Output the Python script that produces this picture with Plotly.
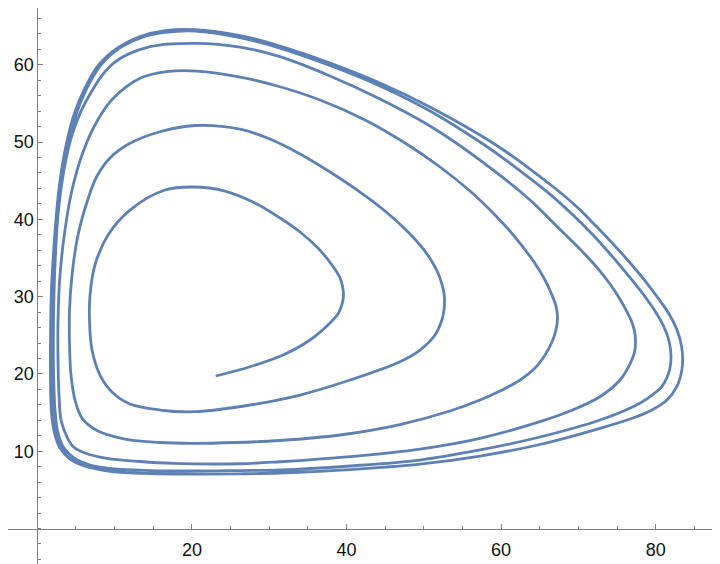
import plotly.graph_objects as go

# trajectory, one turn of the spiral per list
turn1_x = [23.08, 27.52, 31.79, 35.28, 37.87, 38.97, 39.46, 39.61, 39.48, 39.10, 38.12, 36.31, 33.99,
           31.40, 28.16, 24.28, 20.14, 16.52, 11.99, 9.15, 7.46, 6.82, 6.75, 7.08, 8.11, 9.79, 11.99,
           15.87, 20.40]
turn1_y = [19.73, 20.93, 22.45, 24.39, 26.59, 27.88, 29.17, 30.21, 31.37, 32.54, 34.09, 36.29, 38.36,
           40.17, 42.11, 43.66, 44.18, 43.79, 41.20, 37.97, 34.09, 30.21, 26.97, 23.09, 19.86, 17.53,
           16.11, 15.33, 15.11]

turn2_x = [27.52, 33.99, 40.45, 46.92, 49.51, 51.45, 52.34, 52.61, 52.68, 52.63, 52.38, 51.84, 50.93,
           49.51, 47.57, 44.98, 41.75, 37.87, 33.99, 30.10, 26.22, 20.40, 15.87, 11.99, 9.40, 7.68,
           6.60, 5.27, 4.49, 4.17, 4.17, 4.36, 4.88, 5.78, 7.85, 11.36, 15.87, 20.01]
turn2_y = [15.98, 17.27, 19.21, 21.58, 23.09, 25.03, 26.97, 28.26, 29.30, 30.33, 31.50, 33.05, 34.74,
           36.68, 38.75, 41.08, 43.53, 46.12, 48.45, 50.39, 51.68, 52.14, 51.33, 49.83, 47.93, 45.51,
           42.76, 37.97, 32.80, 28.27, 23.74, 19.86, 16.62, 14.29, 12.61, 11.58, 11.13, 11.02]

turn3_x = [25.70, 31.40, 39.16, 46.92, 53.39, 57.27, 59.86, 62.45, 64.39, 65.68, 66.52, 67.10, 67.30,
           67.10, 66.58, 65.68, 64.26, 61.80, 59.21, 55.98, 52.10, 47.57, 42.40, 36.58, 31.40, 26.22,
           20.66, 16.74, 13.29, 9.62, 7.46, 5.78, 4.49, 3.58, 2.94, 2.68, 2.68, 2.81, 3.07, 3.84, 4.66,
           6.17, 8.98, 13.29, 17.59]
turn3_y = [11.13, 11.39, 12.10, 13.45, 15.20, 16.62, 17.79, 19.21, 20.76, 22.45, 24.00, 25.68, 27.36,
           28.78, 30.21, 32.15, 34.48, 37.71, 40.56, 43.66, 46.77, 49.87, 52.85, 55.43, 57.15, 58.41,
           59.18, 59.10, 58.24, 55.43, 52.20, 48.32, 43.79, 38.62, 32.80, 26.97, 21.80, 17.27, 14.04,
           11.84, 10.58, 9.77, 9.08, 8.67, 8.43]

turn4_x = [26.22, 31.40, 40.45, 49.51, 57.27, 65.03, 68.91, 72.79, 75.38, 76.67, 77.26, 77.39, 77.26,
           76.80, 76.03, 75.12, 74.09, 72.79, 71.24, 69.56, 66.98, 63.74, 57.27, 50.80, 44.33, 37.87,
           31.40, 26.22, 20.62, 14.58, 9.83, 6.39, 4.49, 3.45, 2.68, 2.29, 2.10, 2.10, 2.29, 2.68, 3.45,
           4.75, 6.82, 10.05, 14.58, 20.40, 26.22]
turn4_y = [8.38, 8.64, 9.31, 10.28, 11.67, 13.82, 15.20, 17.05, 19.21, 21.28, 22.83, 24.00, 25.55,
           26.97, 28.52, 30.08, 31.63, 33.31, 35.06, 36.80, 39.33, 42.50, 47.67, 52.07, 55.56, 58.54,
           61.04, 62.29, 62.77, 62.33, 60.18, 55.43, 50.91, 46.38, 40.56, 34.09, 26.97, 20.50, 15.33,
           12.35, 10.41, 9.12, 8.21, 7.70, 7.50, 7.44, 7.50]

turn5_x = [31.40, 40.45, 49.51, 57.27, 65.03, 72.79, 77.06, 79.01, 80.82, 81.79, 81.98, 81.72, 81.07,
           79.91, 78.36, 76.42, 74.22, 71.89, 69.30, 66.46, 63.35, 60.25, 57.27, 50.80, 44.33, 37.87,
           31.40, 26.22, 20.40, 16.52, 13.29, 10.44, 8.11, 6.30, 4.88, 3.71, 2.94, 2.42, 2.03, 1.90,
           1.90, 2.03, 2.42, 3.20, 4.49, 6.56, 9.67, 14.58, 20.40, 26.22]
turn5_y = [7.57, 8.09, 8.86, 10.16, 11.84, 14.04, 15.76, 16.88, 18.43, 20.50, 22.32, 24.26, 26.07,
           28.14, 30.34, 32.79, 35.38, 37.97, 40.56, 43.14, 45.60, 47.93, 50.00, 54.01, 57.25, 59.90,
           62.16, 63.52, 64.36, 64.18, 63.45, 62.03, 59.83, 56.73, 53.10, 48.32, 43.14, 37.32, 30.85,
           24.39, 18.56, 14.68, 12.10, 10.16, 8.86, 7.96, 7.37, 7.12, 7.05, 7.08]

turn6_x = [31.40, 40.45, 49.51, 57.27, 65.03, 72.79, 77.06, 79.39, 81.46, 82.76, 83.34, 83.49, 83.34,
           82.76, 81.72, 80.30, 78.75, 76.81, 74.61, 72.28, 69.82, 67.10, 63.74, 60.51, 57.27, 50.80,
           44.33, 37.87, 31.40, 26.22, 20.40, 16.52, 13.29, 10.44, 7.98, 6.17, 4.68, 3.52, 2.74, 2.23,
           1.84, 1.71, 1.71, 1.84, 2.23, 2.94, 4.23, 6.30, 10.70]
turn6_y = [7.18, 7.63, 8.34, 9.38, 10.87, 12.96, 14.30, 15.27, 16.62, 18.43, 20.25, 21.80, 23.61,
           25.68, 27.75, 29.82, 31.89, 34.22, 36.68, 39.13, 41.59, 43.92, 46.51, 48.84, 50.91, 54.53,
           57.63, 60.22, 62.42, 63.78, 64.55, 64.42, 63.65, 62.22, 60.03, 56.99, 53.36, 48.58, 43.40,
           37.58, 31.11, 24.64, 18.82, 14.94, 12.35, 10.41, 8.99, 8.02, 7.31]

x_ticks = [20, 40, 60, 80]
y_ticks = [10, 20, 30, 40, 50, 60]

xs = turn1_x + turn2_x + turn3_x + turn4_x + turn5_x + turn6_x
ys = turn1_y + turn2_y + turn3_y + turn4_y + turn5_y + turn6_y

# the page body keeps its 8px margin, so the figure is 8px smaller each way
x_range = [-3.79, 87.93]
y_range = [-4.59, 67.34]

fig = go.Figure(
    go.Scatter(
        x=xs,
        y=ys,
        mode="lines",
        line=dict(color="#5E81B5", width=2.8, shape="spline"),
        hoverinfo="skip",
    )
)

axis_color = "#7f7f7f"
axis_common = dict(
    showgrid=False,
    zeroline=False,
    showline=True,
    linecolor=axis_color,
    linewidth=1,
    ticks="inside",
    ticklen=5,
    tickwidth=1,
    tickcolor=axis_color,
    tickfont=dict(family="Liberation Sans, Arial, sans-serif", size=18, color="#111111"),
    automargin=False,
    fixedrange=True,
    anchor="free",
)

fig.update_layout(
    width=712,
    height=556,
    margin=dict(l=0, r=3, t=0, b=0),
    paper_bgcolor="white",
    plot_bgcolor="white",
    showlegend=False,
    xaxis=dict(
        axis_common,
        range=x_range,
        tickvals=x_ticks,
        ticklabelstandoff=5,
        position=(0 - y_range[0]) / (y_range[1] - y_range[0]),
        minor=dict(ticks="inside", dtick=5, tick0=0, ticklen=3, tickcolor=axis_color, showgrid=False),
    ),
    yaxis=dict(
        axis_common,
        range=y_range,
        tickvals=y_ticks,
        position=(0 - x_range[0]) / (x_range[1] - x_range[0]),
        minor=dict(ticks="inside", dtick=2, tick0=0, ticklen=3, tickcolor=axis_color, showgrid=False),
    ),
)

fig.write_html("out.html")
